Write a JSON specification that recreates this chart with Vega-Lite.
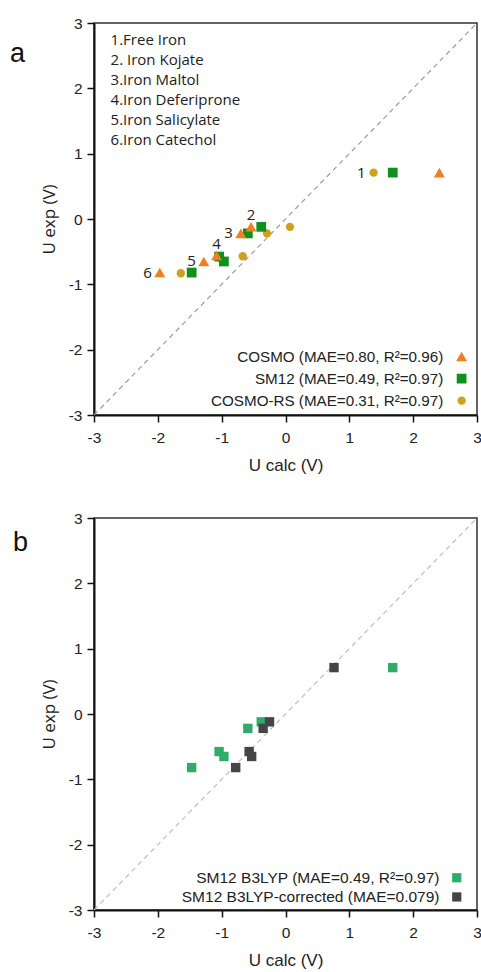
{
  "$schema": "https://vega.github.io/schema/vega-lite/v6.json",
  "padding": {"left": 9, "top": 15, "right": 0, "bottom": 0},
  "spacing": 35,
  "config": {
    "view": {"stroke": "#333", "strokeWidth": 1.5},
    "axis": {"domainColor": "#111", "domainWidth": 2, "tickColor": "#111", "tickWidth": 1.5, "grid": false, "labelFont": "Liberation Sans", "labelFontSize": 15.5, "labelColor": "#222", "titleColor": "#222", "titleFontWeight": "normal", "labelFlush": false, "labelOverlap": false, "labelBound": false, "zindex": 1},
    "axisX": {"titleFont": "Liberation Sans", "titleFontSize": 17, "labelPadding": 8, "titlePadding": 12},
    "axisY": {"titleFont": "Open Sans", "titleFontSize": 17, "labelPadding": 5, "titlePadding": 10},
    "legend": {"orient": "none", "labelAlign": "right", "labelLimit": 400, "symbolSize": 85, "labelFont": "Liberation Sans", "labelColor": "#222", "padding": 0, "symbolOpacity": 1, "symbolStrokeWidth": 0}
  },
  "datasets": {
    "a": [
      {"method": "COSMO-RS", "id": 1, "x": 1.38, "y": 0.71},
      {"method": "COSMO-RS", "id": 2, "x": 0.07, "y": -0.12},
      {"method": "COSMO-RS", "id": 3, "x": -0.29, "y": -0.22},
      {"method": "COSMO-RS", "id": 4, "x": -0.67, "y": -0.57},
      {"method": "COSMO-RS", "id": 5, "x": -1.02, "y": -0.6},
      {"method": "COSMO-RS", "id": 6, "x": -1.64, "y": -0.83},
      {"method": "SM12", "id": 1, "x": 1.68, "y": 0.71},
      {"method": "SM12", "id": 2, "x": -0.38, "y": -0.12},
      {"method": "SM12", "id": 3, "x": -0.59, "y": -0.22},
      {"method": "SM12", "id": 4, "x": -1.04, "y": -0.575},
      {"method": "SM12", "id": 5, "x": -0.965, "y": -0.65},
      {"method": "SM12", "id": 6, "x": -1.47, "y": -0.82},
      {"method": "COSMO", "id": 1, "x": 2.41, "y": 0.71},
      {"method": "COSMO", "id": 2, "x": -0.54, "y": -0.12},
      {"method": "COSMO", "id": 3, "x": -0.7, "y": -0.22},
      {"method": "COSMO", "id": 4, "x": -1.08, "y": -0.56},
      {"method": "COSMO", "id": 5, "x": -1.28, "y": -0.65},
      {"method": "COSMO", "id": 6, "x": -1.97, "y": -0.82}
    ],
    "b": [
      {"method": "SM12 B3LYP", "id": 1, "x": 1.68, "y": 0.71},
      {"method": "SM12 B3LYP", "id": 2, "x": -0.38, "y": -0.12},
      {"method": "SM12 B3LYP", "id": 3, "x": -0.59, "y": -0.22},
      {"method": "SM12 B3LYP", "id": 4, "x": -1.04, "y": -0.575},
      {"method": "SM12 B3LYP", "id": 5, "x": -0.965, "y": -0.65},
      {"method": "SM12 B3LYP", "id": 6, "x": -1.47, "y": -0.82},
      {"method": "SM12 B3LYP-corrected", "id": 1, "x": 0.76, "y": 0.71},
      {"method": "SM12 B3LYP-corrected", "id": 2, "x": -0.25, "y": -0.12},
      {"method": "SM12 B3LYP-corrected", "id": 3, "x": -0.35, "y": -0.22},
      {"method": "SM12 B3LYP-corrected", "id": 4, "x": -0.57, "y": -0.575},
      {"method": "SM12 B3LYP-corrected", "id": 5, "x": -0.53, "y": -0.65},
      {"method": "SM12 B3LYP-corrected", "id": 6, "x": -0.78, "y": -0.82}
    ]
  },
  "resolve": {"scale": {"x": "independent", "y": "independent", "color": "independent", "shape": "independent", "size": "independent"}, "legend": {"color": "independent", "shape": "independent"}},
  "vconcat": [
    {
      "width": 383,
      "height": 392,
      "layer": [
        {
          "data": {"values": [{}]},
          "mark": {"type": "rule", "color": "#9a9a9a", "strokeDash": [5, 4], "strokeWidth": 1.2},
          "encoding": {
            "x": {"datum": -3, "type": "quantitative", "scale": {"domain": [-3, 3], "nice": false}},
            "y": {"datum": -3, "type": "quantitative", "scale": {"domain": [-3, 3], "nice": false}},
            "x2": {"datum": 3},
            "y2": {"datum": 3}
          }
        },
        {
          "data": {"name": "a"},
          "mark": {"type": "point", "filled": true, "opacity": 1},
          "encoding": {
            "x": {"field": "x", "type": "quantitative", "scale": {"domain": [-3, 3], "nice": false},
              "axis": {"title": "U calc (V)", "values": [-3, -2.5, -2, -1.5, -1, -0.5, 0, 0.5, 1, 1.5, 2, 2.5, 3], "labelExpr": "datum.value % 1 === 0 ? '' + datum.value : ''", "tickSize": {"condition": {"test": "datum.value % 1 !== 0", "value": 5}, "value": 7}}},
            "y": {"field": "y", "type": "quantitative", "scale": {"domain": [-3, 3], "nice": false},
              "axis": {"title": "U exp (V)", "values": [-3, -2.5, -2, -1.5, -1, -0.5, 0, 0.5, 1, 1.5, 2, 2.5, 3], "labelExpr": "datum.value % 1 === 0 ? '' + datum.value : ''", "tickSize": {"condition": {"test": "datum.value % 1 !== 0", "value": 4}, "value": 7}}},
            "color": {"field": "method", "type": "nominal", "scale": {"domain": ["COSMO", "SM12", "COSMO-RS"], "range": ["#F07F22", "#12901E", "#D1A01F"]},
              "legend": {"title": null, "legendX": 360, "legendY": 326, "rowPadding": 6, "labelOffset": -26, "labelFontSize": 15.2, "labelExpr": "datum.label == 'COSMO' ? 'COSMO (MAE=0.80, R²=0.96)' : datum.label == 'SM12' ? 'SM12 (MAE=0.49, R²=0.97)' : 'COSMO-RS (MAE=0.31, R²=0.97)'"}},
            "shape": {"field": "method", "type": "nominal", "scale": {"domain": ["COSMO", "SM12", "COSMO-RS"], "range": ["triangle-up", "square", "circle"]},
              "legend": {"title": null, "legendX": 360, "legendY": 326, "rowPadding": 6, "labelOffset": -26, "labelFontSize": 15.2, "labelExpr": "datum.label == 'COSMO' ? 'COSMO (MAE=0.80, R²=0.96)' : datum.label == 'SM12' ? 'SM12 (MAE=0.49, R²=0.97)' : 'COSMO-RS (MAE=0.31, R²=0.97)'"}},
            "size": {"field": "method", "type": "nominal", "scale": {"domain": ["COSMO", "SM12", "COSMO-RS"], "range": [121, 70, 87]}, "legend": null}
          }
        },
        {
          "data": {"name": "a"},
          "transform": [{"filter": "(datum.method == 'COSMO' && indexof([3, 5, 6], datum.id) >= 0) || (datum.method == 'COSMO-RS' && datum.id == 1)"}],
          "mark": {"type": "text", "align": "right", "baseline": "middle", "dx": -8, "font": "Open Sans", "fontSize": 15, "color": "#222"},
          "encoding": {
            "x": {"field": "x", "type": "quantitative", "scale": {"domain": [-3, 3], "nice": false}},
            "y": {"field": "y", "type": "quantitative", "scale": {"domain": [-3, 3], "nice": false}},
            "text": {"field": "id", "type": "nominal"}
          }
        },
        {
          "data": {"name": "a"},
          "transform": [{"filter": "datum.method == 'COSMO' && indexof([2, 4], datum.id) >= 0"}],
          "mark": {"type": "text", "align": "center", "baseline": "middle", "dy": -12, "font": "Open Sans", "fontSize": 15, "color": "#222"},
          "encoding": {
            "x": {"field": "x", "type": "quantitative", "scale": {"domain": [-3, 3], "nice": false}},
            "y": {"field": "y", "type": "quantitative", "scale": {"domain": [-3, 3], "nice": false}},
            "text": {"field": "id", "type": "nominal"}
          }
        },
        {
          "data": {"values": [{}]},
          "mark": {"type": "text", "align": "left", "baseline": "alphabetic", "font": "Open Sans", "fontSize": 15, "lineHeight": 20, "color": "#222",
            "text": ["1.Free Iron", "2. Iron Kojate", "3.Iron Maltol", "4.Iron Deferiprone", "5.Iron Salicylate", "6.Iron Catechol"]},
          "encoding": {
            "x": {"datum": -2.74, "type": "quantitative", "scale": {"domain": [-3, 3], "nice": false}},
            "y": {"datum": 2.66, "type": "quantitative", "scale": {"domain": [-3, 3], "nice": false}}
          }
        },
        {
          "data": {"values": [{}]},
          "mark": {"type": "text", "align": "center", "baseline": "alphabetic", "font": "Liberation Sans", "fontSize": 27, "color": "#111", "text": "a"},
          "encoding": {
            "x": {"datum": -4.2, "type": "quantitative", "scale": {"domain": [-3, 3], "nice": false}},
            "y": {"datum": 2.41, "type": "quantitative", "scale": {"domain": [-3, 3], "nice": false}}
          }
        }
      ]
    },
    {
      "width": 383,
      "height": 392,
      "layer": [
        {
          "data": {"values": [{}]},
          "mark": {"type": "rule", "color": "#bdbdbd", "strokeDash": [5, 4], "strokeWidth": 1.2},
          "encoding": {
            "x": {"datum": -3, "type": "quantitative", "scale": {"domain": [-3, 3], "nice": false}},
            "y": {"datum": -3, "type": "quantitative", "scale": {"domain": [-3, 3], "nice": false}},
            "x2": {"datum": 3},
            "y2": {"datum": 3}
          }
        },
        {
          "data": {"name": "b"},
          "mark": {"type": "point", "filled": true, "opacity": 1, "shape": "square", "size": 88},
          "encoding": {
            "x": {"field": "x", "type": "quantitative", "scale": {"domain": [-3, 3], "nice": false},
              "axis": {"title": "U calc (V)", "values": [-3, -2.5, -2, -1.5, -1, -0.5, 0, 0.5, 1, 1.5, 2, 2.5, 3], "labelExpr": "datum.value % 1 === 0 ? '' + datum.value : ''", "tickSize": {"condition": {"test": "datum.value % 1 !== 0", "value": 5}, "value": 7}}},
            "y": {"field": "y", "type": "quantitative", "scale": {"domain": [-3, 3], "nice": false},
              "axis": {"title": "U exp (V)", "values": [-3, -2.5, -2, -1.5, -1, -0.5, 0, 0.5, 1, 1.5, 2, 2.5, 3], "labelExpr": "datum.value % 1 === 0 ? '' + datum.value : ''", "tickSize": {"condition": {"test": "datum.value % 1 !== 0", "value": 4}, "value": 7}}},
            "color": {"field": "method", "type": "nominal", "scale": {"domain": ["SM12 B3LYP", "SM12 B3LYP-corrected"], "range": ["#2EAD68", "#454545"]},
              "legend": {"title": null, "legendX": 355, "legendY": 352, "rowPadding": 2.2, "labelOffset": -25, "labelFontSize": 15.5, "symbolType": "square", "labelExpr": "datum.label == 'SM12 B3LYP' ? 'SM12 B3LYP (MAE=0.49, R²=0.97)' : 'SM12 B3LYP-corrected (MAE=0.079)'"}}
          }
        },
        {
          "data": {"values": [{}]},
          "mark": {"type": "text", "align": "center", "baseline": "alphabetic", "font": "Liberation Sans", "fontSize": 27, "color": "#111", "text": "b"},
          "encoding": {
            "x": {"datum": -4.15, "type": "quantitative", "scale": {"domain": [-3, 3], "nice": false}},
            "y": {"datum": 2.49, "type": "quantitative", "scale": {"domain": [-3, 3], "nice": false}}
          }
        }
      ]
    }
  ]
}
